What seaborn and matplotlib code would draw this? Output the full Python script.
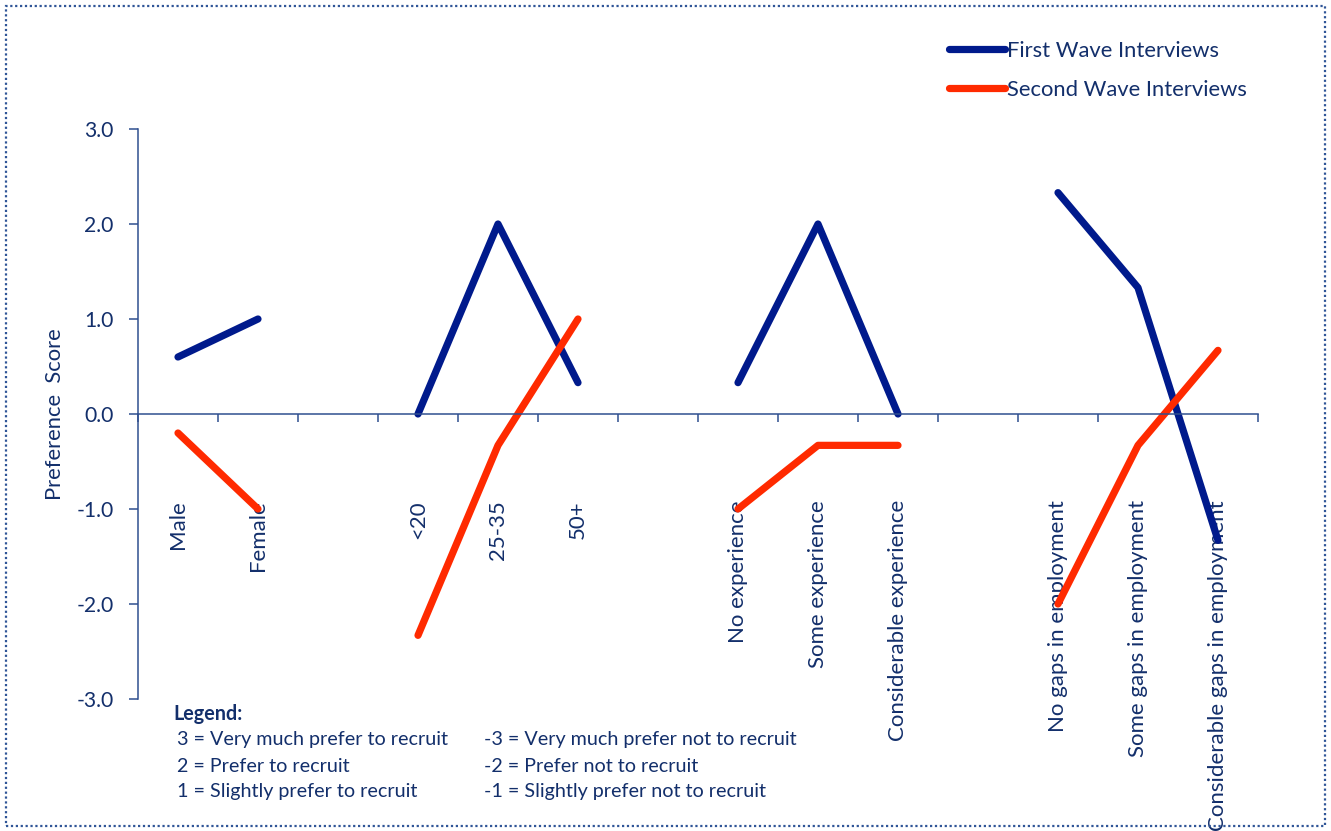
import numpy as np
import pandas as pd
import matplotlib
matplotlib.use("Agg")
import matplotlib.pyplot as plt
from matplotlib.lines import Line2D
from matplotlib.patches import Rectangle
import seaborn as sns

# Category slots along the x axis ("" marks a spacer between groups)
categories = ["Male", "Female", "",
              "<20", "25-35", "50+", "",
              "No experience", "Some experience", "Considerable experience", "",
              "No gaps in employment", "Some gaps in employment",
              "Considerable gaps in employment"]
# Group id of each slot (None for spacers) so lines break between groups
groups = ["gender", "gender", None,
          "age", "age", "age", None,
          "exp", "exp", "exp", None,
          "gaps", "gaps", "gaps"]

first_wave = [0.6, 1.0, np.nan,
              0.0, 2.0, 0.33, np.nan,
              0.33, 2.0, 0.0, np.nan,
              2.33, 1.33, -1.33]
second_wave = [-0.2, -1.0, np.nan,
               -2.33, -0.33, 1.0, np.nan,
               -1.0, -0.33, -0.33, np.nan,
               -2.0, -0.33, 0.67]

series_names = ["First Wave Interviews", "Second Wave Interviews"]
y_ticks = [-3.0, -2.0, -1.0, 0.0, 1.0, 2.0, 3.0]

legend_left = ["3 = Very much prefer to recruit",
               "2 = Prefer to recruit",
               "1 = Slightly prefer to recruit"]
legend_right = ["-3 = Very much prefer not to recruit",
                "-2 = Prefer not to recruit",
                "-1 = Slightly prefer not to recruit"]

NAVY = "#132f6b"
AXIS = "#2f4f8f"
BLUE = "#001a8c"
RED = "#ff2a00"

sns.set_style("white")
plt.rcParams["font.family"] = ["Lato", "DejaVu Sans"]

rows = []
for name, vals in zip(series_names, [first_wave, second_wave]):
    for i, (g, v) in enumerate(zip(groups, vals)):
        if g is None or np.isnan(v):
            continue
        rows.append({"pos": i, "score": v, "wave": name, "grp": g})
df = pd.DataFrame(rows)

fig = plt.figure(figsize=(13.31, 8.31), dpi=100)
ax = fig.add_axes([138 / 1331, 1 - 699 / 831, 1120 / 1331, 570 / 831])

sns.lineplot(data=df, x="pos", y="score", hue="wave", units="grp",
             estimator=None, palette=[BLUE, RED], hue_order=series_names,
             linewidth=5.2, solid_capstyle="round", solid_joinstyle="round",
             legend=False, ax=ax, sort=False)

ax.set_xlim(-0.5, len(categories) - 0.5)
ax.set_ylim(-3.0, 3.0)

# Spines: left axis and a horizontal axis through zero
for s in ["top", "right"]:
    ax.spines[s].set_visible(False)
ax.spines["bottom"].set_position(("data", 0))
for s in ["left", "bottom"]:
    ax.spines[s].set_color(AXIS)
    ax.spines[s].set_linewidth(1.1)

# Boundary ticks on the zero line, category labels as minor tick labels
ax.set_xticks(np.arange(-0.5, len(categories)), labels=[""] * (len(categories) + 1))
ax.set_xticks(np.arange(len(categories)), labels=categories, minor=True)
ax.tick_params(axis="x", which="major", direction="out", length=6,
               width=1.1, color=AXIS, bottom=True)
ax.tick_params(axis="x", which="minor", length=0, pad=62, rotation=90,
               labelsize=16, labelcolor=NAVY, bottom=True)

ax.set_yticks(y_ticks, labels=[f"{v:.1f}" for v in y_ticks])
ax.tick_params(axis="y", direction="out", length=6.5, width=1.1, color=AXIS,
               pad=11, labelsize=15.2, labelcolor=NAVY, left=True)

ax.set_xlabel("")
ax.set_ylabel("Preference  Score", fontsize=15.8, color=NAVY, labelpad=8)

# Series legend, top right
handles = [Line2D([], [], color=c, lw=5.2, solid_capstyle="round")
           for c in [BLUE, RED]]
fig.legend(handles, series_names, loc="upper left",
           bbox_to_anchor=(940 / 1331, 1 - 32 / 831), frameon=False,
           fontsize=15.8, labelcolor=NAVY, handlelength=2.55,
           handletextpad=0.12, labelspacing=0.88, borderaxespad=0)

# Score key at the bottom
fig.text(173 / 1331, 1 - 714 / 831, "Legend:", fontsize=14.2,
         fontweight="bold", color=NAVY, va="center", ha="left")
for k, (lt, rt) in enumerate(zip(legend_left, legend_right)):
    y = 1 - (740 + 26 * k) / 831
    fig.text(177 / 1331, y, lt, fontsize=14.2, color=NAVY, va="center", ha="left")
    fig.text(484 / 1331, y, rt, fontsize=14.2, color=NAVY, va="center", ha="left")

# Dotted frame around the figure
fig.patches.append(Rectangle((6 / 1331, 5 / 831), 1319 / 1331, 820 / 831,
                             transform=fig.transFigure, fill=False,
                             edgecolor="#2f5597", linewidth=1.6,
                             linestyle=(0, (1, 1.2)), zorder=10))

fig.savefig("out.png", dpi=100)
